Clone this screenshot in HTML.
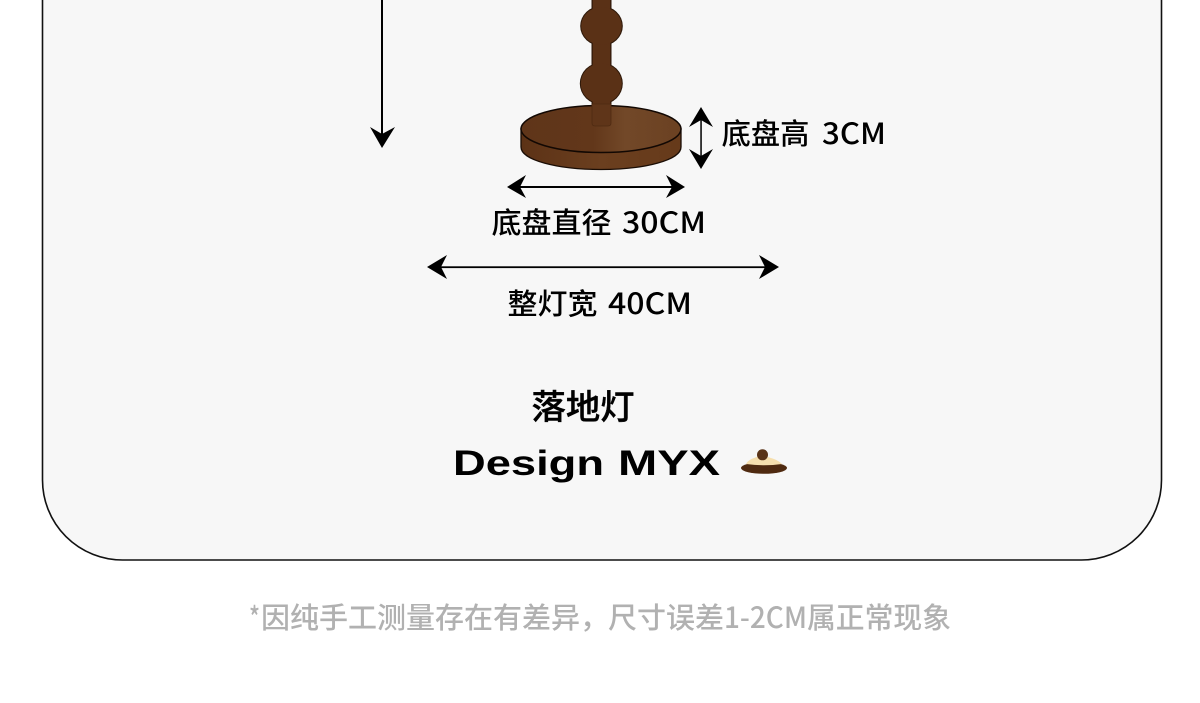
<!DOCTYPE html>
<html lang="zh">
<head>
<meta charset="utf-8">
<title>落地灯</title>
<style>
html,body{margin:0;padding:0;background:#fff;width:1200px;height:703px;overflow:hidden}
svg{display:block}
text{font-family:"Noto Sans CJK SC","Liberation Sans",sans-serif;fill:#000}
.l{font-size:29px;font-weight:500}
.n{font-size:29px;font-weight:500}
.f{font-size:29px;font-weight:500;fill:#b1b1b1}
</style>
</head>
<body>
<svg xmlns="http://www.w3.org/2000/svg" width="1200" height="703" viewBox="0 0 1200 703">
<defs>
<linearGradient id="top" x1="0" x2="1" y1="0" y2="0">
<stop offset="0" stop-color="#5f3519"/><stop offset=".45" stop-color="#62371a"/><stop offset=".65" stop-color="#724828"/><stop offset="1" stop-color="#6b4122"/>
</linearGradient>
<linearGradient id="side" x1="0" x2="1" y1="0" y2="0">
<stop offset="0" stop-color="#5c3216"/><stop offset=".5" stop-color="#6b3f1f"/><stop offset="1" stop-color="#663a1a"/>
</linearGradient>
</defs>

<path d="M42.500 -10V480A80 80 0 0 0 122.500 560H1081.500A80 80 0 0 0 1161.500 480V-10Z" fill="#f7f7f7" stroke="#111" stroke-width="1.600"/>

<!-- base -->
<path d="M521 129V147C521 160 557 169.500 601 169.500S681 160 681 147V129Z" fill="url(#side)" stroke="#1a0d05" stroke-width="1.300"/>
<ellipse cx="601" cy="129" rx="80" ry="23.500" fill="url(#top)" stroke="#120803" stroke-width="1.500"/>

<!-- column: outline first, fills on top so the silhouette reads as one piece -->
<g fill="#2c1708">
<rect x="591.500" y="-4" width="20" height="110"/>
<ellipse cx="601.500" cy="26" rx="21.300" ry="20"/>
<ellipse cx="601.300" cy="83.500" rx="21.500" ry="21"/>
</g>
<g fill="#5a3116">
<rect x="592.700" y="-4" width="17.600" height="110"/>
<ellipse cx="601.500" cy="26" rx="20.300" ry="19"/>
<ellipse cx="601.300" cy="83.500" rx="20.500" ry="20"/>
</g>
<path d="M592 104H611V123Q611 126 608 126H595Q592 126 592 123Z" fill="#5f3519" stroke="#4f2b12" stroke-width=".8"/>

<!-- arrows -->
<g fill="#000" stroke="none">
<rect x="381" y="-2" width="2" height="136"/>
<path d="M382 148L370 127L382 134L395 127Z"/>
<rect x="700.300" y="118" width="1.500" height="40"/>
<path d="M701 107L713 127L701 120L689 127Z"/>
<path d="M701 169L713 149L701 156L689 149Z"/>
<rect x="515" y="186" width="162" height="2"/>
<path d="M507 187L526 175L520 187L526 198Z"/>
<path d="M685 187L666 175L672 187L666 198Z"/>
<rect x="436" y="266.300" width="334" height="1.800"/>
<path d="M427 267L447 255L441 267L447 279Z"/>
<path d="M779 267L759 255L765 267L759 279Z"/>
</g>

<!-- labels -->
<text class="l" x="721.500" y="144" textLength="88" lengthAdjust="spacingAndGlyphs">底盘高</text>
<text class="n" x="822" y="144" textLength="64" lengthAdjust="spacingAndGlyphs">3CM</text>
<text class="l" x="491.500" y="233" textLength="120" lengthAdjust="spacingAndGlyphs">底盘直径</text>
<text class="n" x="622" y="233" textLength="84" lengthAdjust="spacingAndGlyphs">30CM</text>
<text class="l" x="507.500" y="314" textLength="90" lengthAdjust="spacingAndGlyphs">整灯宽</text>
<text class="n" x="608" y="314" textLength="84" lengthAdjust="spacingAndGlyphs">40CM</text>
<text x="531.500" y="419" font-size="34" font-weight="500" stroke="#000" stroke-width=".4" textLength="103" lengthAdjust="spacingAndGlyphs">落地灯</text>
<text x="453" y="475" font-size="35" font-weight="700" textLength="151" lengthAdjust="spacingAndGlyphs" style="font-family:'Liberation Sans',sans-serif">Design</text>
<text x="618" y="475" font-size="35" font-weight="700" textLength="102" lengthAdjust="spacingAndGlyphs" style="font-family:'Liberation Sans',sans-serif">MYX</text>

<!-- logo mark -->
<ellipse cx="764" cy="468" rx="23" ry="5.800" fill="#4f2a10"/>
<path d="M746 464Q749 458 762 456Q776 458 782 464Q764 466.500 746 464Z" fill="#f6dfae"/>
<circle cx="762.500" cy="454.800" r="5.500" fill="#5a3418"/>

<!-- footer -->
<text class="f" x="249" y="628" textLength="11" lengthAdjust="spacingAndGlyphs">*</text>
<text class="f" x="261" y="628" textLength="348" lengthAdjust="spacingAndGlyphs">因纯手工测量存在有差异，</text>
<text class="f" x="608" y="628" textLength="116" lengthAdjust="spacingAndGlyphs">尺寸误差</text>
<text class="f" x="724" y="628" textLength="83" lengthAdjust="spacingAndGlyphs">1-2CM</text>
<text class="f" x="807" y="628" textLength="144" lengthAdjust="spacingAndGlyphs">属正常现象</text>
</svg>
</body>
</html>
